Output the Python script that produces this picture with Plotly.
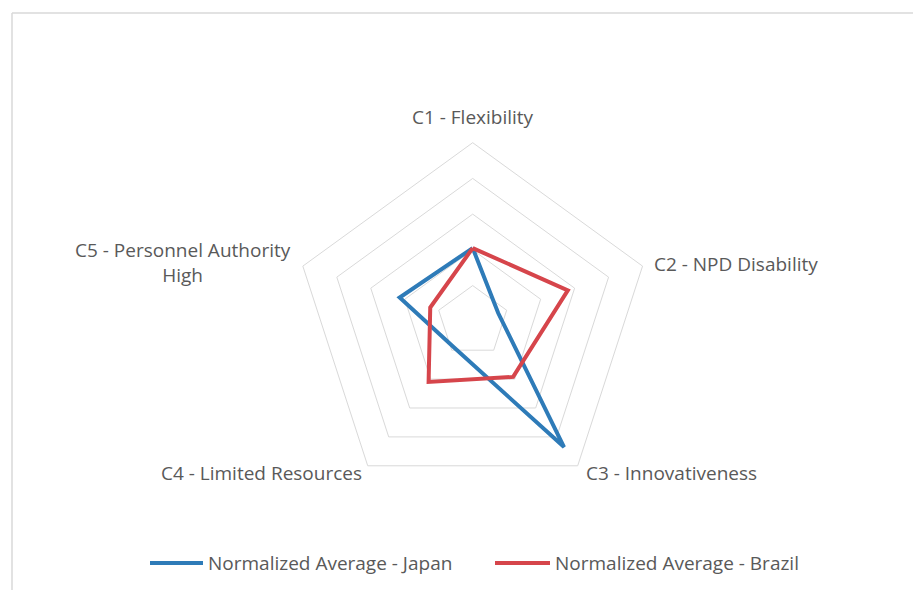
import plotly.graph_objects as go

categories = ["C1 - Flexibility", "C2 - NPD Disability", "C3 - Innovativeness",
              "C4 - Limited Resources", "C5 - Personnel Authority<br>High"]
japan = [0.41, 0.15, 0.87, 0.18, 0.43]
brazil = [0.41, 0.56, 0.385, 0.42, 0.25]
series_names = ["Normalized Average - Japan", "Normalized Average - Brazil"]
series_colors = ["#2E7BB8", "#D6454B"]
radial_ticks = [0.2, 0.4, 0.6, 0.8, 1.0]

# page body has an 8px margin; figure fills the rest of the 921x590 window
OFF = 8
W, H = 921 - OFF, 590 - OFF


def px(x):
    return (x - OFF) / W


def py(y):
    return (H - (y - OFF)) / H


cx, cy, R = 472.7, 321.3, 178.6

fig = go.Figure()
for name, vals, col in zip(series_names, [japan, brazil], series_colors):
    fig.add_trace(go.Scatterpolar(
        r=vals + vals[:1], theta=categories + categories[:1], mode="lines",
        name=name, line=dict(color=col, width=4), hoverinfo="name+r+theta"))

FONT = "Open Sans"
label_font = dict(family=FONT, size=19, color="#595959")
fig.update_layout(
    width=W, height=H,
    margin=dict(l=0, r=0, t=0, b=0),
    paper_bgcolor="white",
    showlegend=False,
    polar=dict(
        domain=dict(x=[px(cx - R), px(cx + R)], y=[py(cy + R), py(cy - R)]),
        bgcolor="white",
        gridshape="linear",
        radialaxis=dict(range=[0, 1], tickvals=radial_ticks, showticklabels=False,
                        showline=False, ticks="", gridcolor="#D9D9D9", gridwidth=1),
        angularaxis=dict(direction="clockwise", rotation=90, showgrid=False,
                         showline=True, linecolor="#D9D9D9", linewidth=1,
                         ticks="", showticklabels=False),
    ),
)

# axis category labels
label_pos = [
    (473, 117, "center", "middle"),
    (652, 264, "left", "middle"),
    (584, 473, "left", "middle"),
    (364, 473, "right", "middle"),
    (183, 262, "center", "middle"),
]
for text, (x, y, xa, ya) in zip(categories, label_pos):
    fig.add_annotation(text=text, x=px(x), y=py(y), xref="paper", yref="paper",
                       xanchor=xa, yanchor=ya, showarrow=False, font=label_font, align="center")

# legend (drawn below the chart)
legend_items = [(150, 203, 206), (495, 550, 553)]
for name, col, (l0, l1, tx) in zip(series_names, series_colors, legend_items):
    fig.add_shape(type="line", xref="paper", yref="paper", x0=px(l0), x1=px(l1),
                  y0=py(563), y1=py(563), line=dict(color=col, width=4))
    fig.add_annotation(text=name, x=px(tx), y=py(563), xref="paper", yref="paper",
                       xanchor="left", yanchor="middle", showarrow=False, font=label_font)

# chart area border (top and left visible)
fig.add_shape(type="line", xref="paper", yref="paper", x0=px(12), x1=1, y0=py(13), y1=py(13),
              line=dict(color="#D9D9D9", width=1.5))
fig.add_shape(type="line", xref="paper", yref="paper", x0=px(12), x1=px(12), y0=0, y1=py(13),
              line=dict(color="#D9D9D9", width=1.5))

fig.write_html("out.html")
